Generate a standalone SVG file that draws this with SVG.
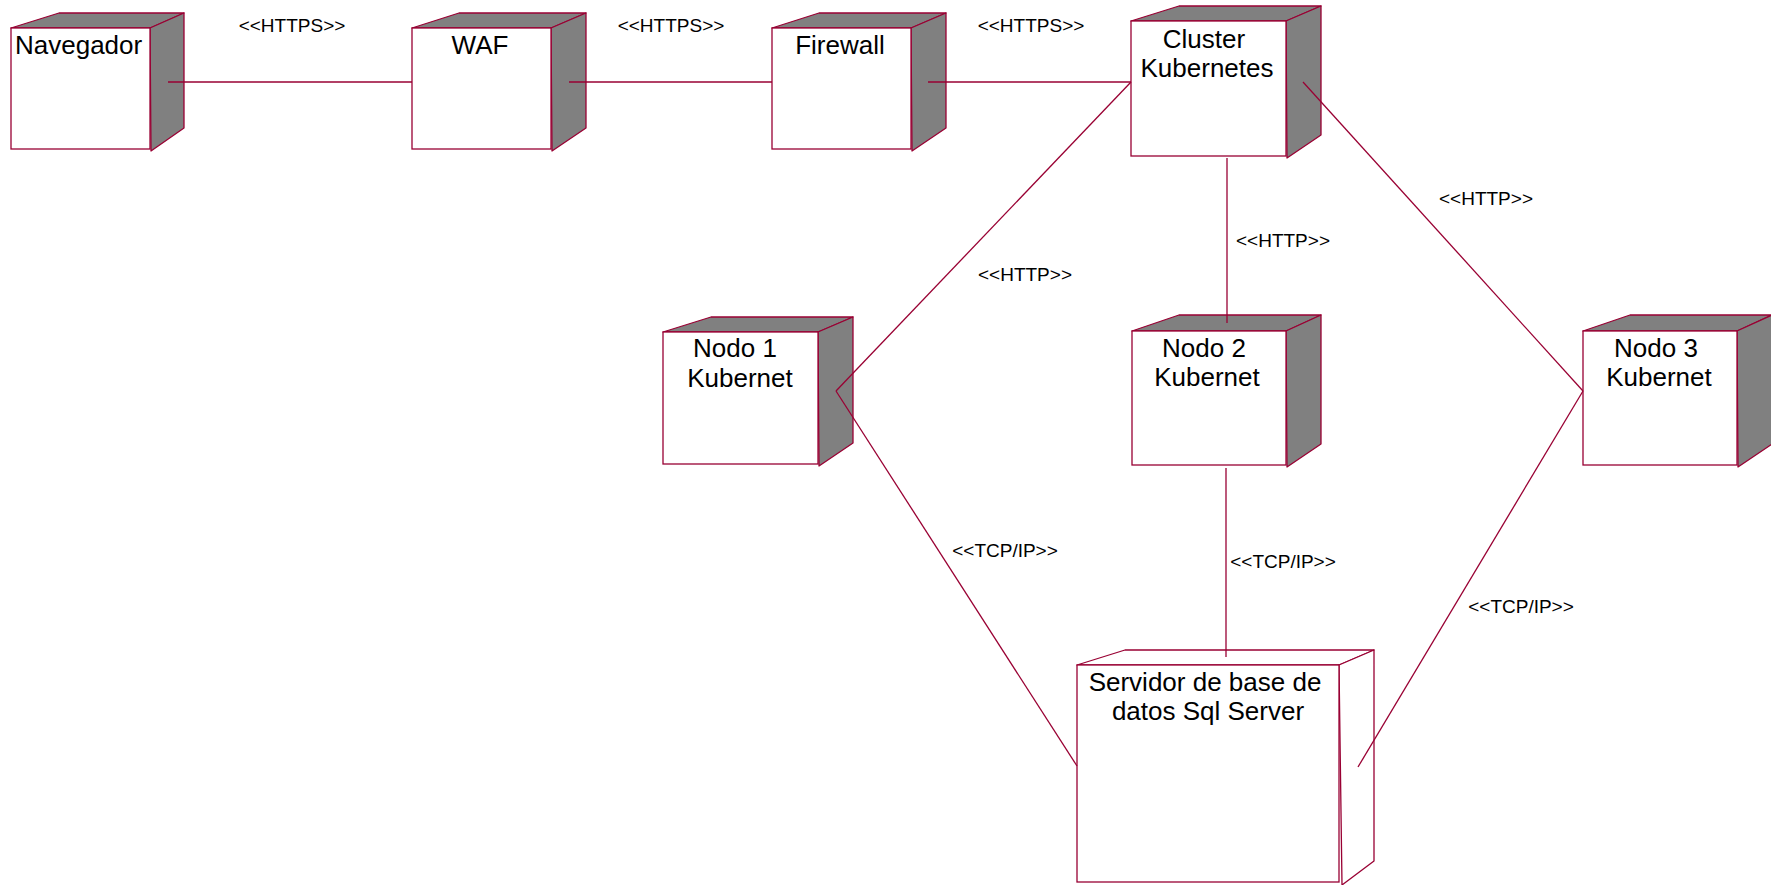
<svg xmlns="http://www.w3.org/2000/svg" width="1771" height="885" viewBox="0 0 1771 885">
<defs>
<style>
.bg{fill:#ffffff}
.front{fill:#ffffff;stroke:#990033;stroke-width:1.3}
.top{fill:#808080;stroke:#990033;stroke-width:1.3;stroke-linejoin:round}
.side{fill:#808080;stroke:#990033;stroke-width:1.3;stroke-linejoin:round}
.wtop{fill:#ffffff;stroke:#990033;stroke-width:1.3;stroke-linejoin:round}
.name{font-family:"Liberation Sans",Arial,sans-serif;font-size:26px;fill:#000000}
.lbl{font-family:"Liberation Sans",Arial,sans-serif;font-size:19px;fill:#000000;text-anchor:middle}
.conn{stroke:#990033;stroke-width:1.3;fill:none}
</style>
</defs>
<rect class="bg" x="0" y="0" width="1771" height="885"/>

<g id="navegador">
<polygon class="top" points="11,28 59,13 184,13 150,28"/>
<polygon class="side" points="150,28 184,13 184,128 151,151"/>
<rect class="front" x="11" y="28" width="139" height="121"/>
<text class="name" x="15" y="54">Navegador</text>
</g>

<g id="waf">
<polygon class="top" points="412,28 459,13 586,13 551,28"/>
<polygon class="side" points="551,28 586,13 586,128 552,151"/>
<rect class="front" x="412" y="28" width="139" height="121"/>
<text class="name" x="480" y="54" text-anchor="middle">WAF</text>
</g>

<g id="firewall">
<polygon class="top" points="772,28 819,13 946,13 911,28"/>
<polygon class="side" points="911,28 946,13 946,128 912,151"/>
<rect class="front" x="772" y="28" width="139" height="121"/>
<text class="name" x="840" y="54" text-anchor="middle">Firewall</text>
</g>

<g id="cluster">
<polygon class="top" points="1131,21 1179,6 1321,6 1286,21"/>
<polygon class="side" points="1286,21 1321,6 1321,135 1287,158"/>
<rect class="front" x="1131" y="21" width="155" height="135"/>
<text class="name" x="1204" y="48" text-anchor="middle">Cluster</text>
<text class="name" x="1207" y="77" text-anchor="middle">Kubernetes</text>
</g>

<g id="nodo1">
<polygon class="top" points="663,332 711,317 853,317 818,332"/>
<polygon class="side" points="818,332 853,317 853,443 819,466"/>
<rect class="front" x="663" y="332" width="155" height="132"/>
<text class="name" x="735" y="357" text-anchor="middle">Nodo 1</text>
<text class="name" x="740" y="387" text-anchor="middle">Kubernet</text>
</g>

<g id="nodo2">
<polygon class="top" points="1132,331 1179,315 1321,315 1286,331"/>
<polygon class="side" points="1286,331 1321,315 1321,444 1287,467"/>
<rect class="front" x="1132" y="331" width="154" height="134"/>
<text class="name" x="1204" y="357" text-anchor="middle">Nodo 2</text>
<text class="name" x="1207" y="386" text-anchor="middle">Kubernet</text>
</g>

<g id="nodo3">
<polygon class="top" points="1583,331 1630,315 1772,315 1737,331"/>
<polygon class="side" points="1737,331 1772,315 1772,444 1738,467"/>
<rect class="front" x="1583" y="331" width="154" height="134"/>
<text class="name" x="1656" y="357" text-anchor="middle">Nodo 3</text>
<text class="name" x="1659" y="386" text-anchor="middle">Kubernet</text>
</g>

<g id="sqlserver">
<polygon class="wtop" points="1077,665 1125,650 1374,650 1339,665"/>
<polygon class="wtop" points="1339,665 1374,650 1374,861 1342,885"/>
<rect class="front" x="1077" y="665" width="262" height="217"/>
<text class="name" x="1205" y="691" text-anchor="middle">Servidor de base de</text>
<text class="name" x="1208" y="720" text-anchor="middle">datos Sql Server</text>
</g>

<g id="connectors">
<line class="conn" x1="168" y1="82" x2="412" y2="82"/>
<line class="conn" x1="569" y1="82" x2="772" y2="82"/>
<line class="conn" x1="928" y1="82" x2="1131" y2="82"/>
<line class="conn" x1="1131" y1="82" x2="836" y2="391"/>
<line class="conn" x1="836" y1="391" x2="1077" y2="766"/>
<line class="conn" x1="1227" y1="158" x2="1227" y2="323"/>
<line class="conn" x1="1226" y1="468" x2="1226" y2="657"/>
<line class="conn" x1="1303" y1="82" x2="1583" y2="391"/>
<line class="conn" x1="1583" y1="391" x2="1358" y2="767"/>
</g>

<g id="labels">
<text class="lbl" x="292" y="32">&lt;&lt;HTTPS&gt;&gt;</text>
<text class="lbl" x="671" y="32">&lt;&lt;HTTPS&gt;&gt;</text>
<text class="lbl" x="1031" y="32">&lt;&lt;HTTPS&gt;&gt;</text>
<text class="lbl" x="1025" y="281">&lt;&lt;HTTP&gt;&gt;</text>
<text class="lbl" x="1283" y="247">&lt;&lt;HTTP&gt;&gt;</text>
<text class="lbl" x="1486" y="205">&lt;&lt;HTTP&gt;&gt;</text>
<text class="lbl" x="1005" y="557">&lt;&lt;TCP/IP&gt;&gt;</text>
<text class="lbl" x="1283" y="568">&lt;&lt;TCP/IP&gt;&gt;</text>
<text class="lbl" x="1521" y="613">&lt;&lt;TCP/IP&gt;&gt;</text>
</g>
</svg>
